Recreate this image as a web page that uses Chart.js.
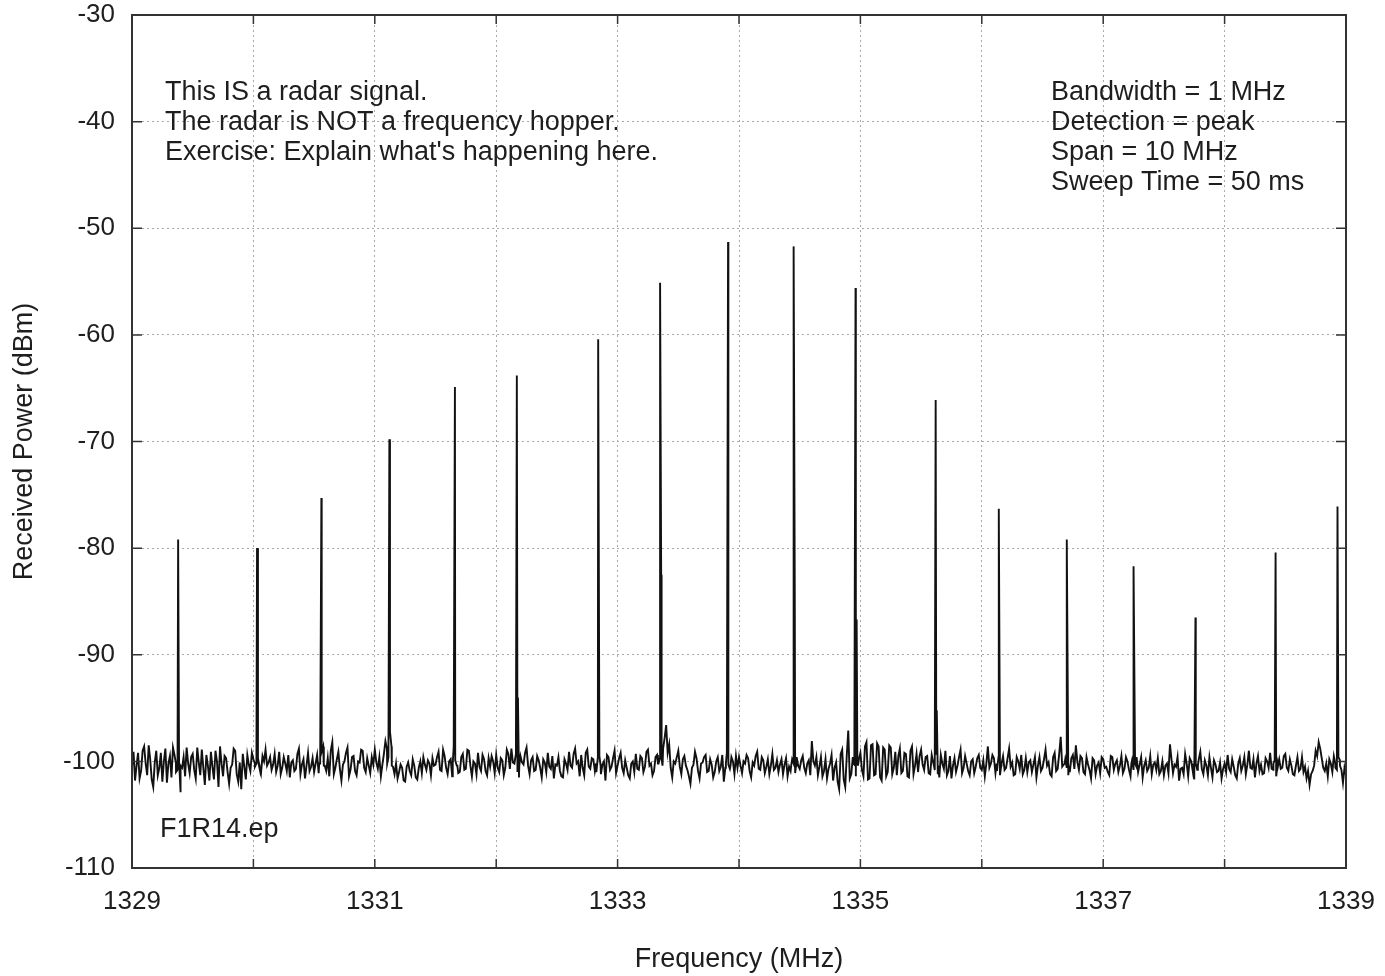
<!DOCTYPE html>
<html>
<head>
<meta charset="utf-8">
<script src="https://cdn.jsdelivr.net/npm/chart.js@4.4.1/dist/chart.umd.min.js"></script>
<style>
  html, body { margin: 0; padding: 0; background: #fff; }
  #radarSpectrum { display: block; }
</style>
</head>
<body>
<canvas id="radarSpectrum" width="1385" height="976"></canvas>
<script>
// Spectrum analyzer trace, 1329-1339 MHz
const freqStart = 1329;
const freqStep = 0.025;

// noise floor, one value per 0.025 MHz
const noiseLevels = [
  -100.5,-101.8,-99.2,-100.9,-98.6,-101.3,-99.8,-102.4,-99.0,-100.6,-101.9,-98.8,-100.2,-101.5,-99.4,-100.8,-102.9,-99.6,-98.7,-101.1,
  -99.3,-101.6,-100.1,-98.9,-102.2,-100.4,-99.1,-101.7,-100.0,-98.6,-101.4,-99.7,-102.1,-100.3,-99.0,-101.9,-102.6,-100.5,-99.4,-100.9,
  -99.8,-100.2,-100.6,-99.5,-98.9,-100.1,-100.8,-99.3,-100.4,-101.2,-99.6,-100.9,-101.5,-99.9,-100.7,-98.8,-100.3,-101.6,-99.2,-100.5,
  -101.0,-99.4,-100.2,-98.6,-100.9,-101.4,-98.2,-100.6,-99.1,-101.8,-100.0,-98.7,-100.8,-99.5,-101.3,-100.1,-99.0,-101.0,-100.4,-99.6,
  -98.9,-100.7,-101.4,-99.3,-98.8,-97.2,-100.5,-100.2,-101.0,-100.6,-101.9,-100.1,-101.3,-100.4,-101.7,-100.0,-99.6,-100.8,-100.2,-99.7,
  -100.3,-99.1,-100.9,-99.5,-101.2,-99.8,-98.6,-100.4,-101.0,-99.3,-100.7,-99.0,-101.4,-100.2,-99.2,-100.9,-99.8,-101.3,-100.5,-100.0,
  -99.4,-101.0,-99.9,-100.6,-99.3,-98.8,-100.2,-100.9,-99.5,-100.3,-98.7,-101.2,-99.6,-100.8,-99.9,-101.5,-100.1,-99.2,-100.7,-101.6,
  -100.4,-100.9,-101.5,-100.2,-99.1,-100.6,-98.8,-100.0,-99.4,-101.3,-98.9,-100.7,-99.8,-101.0,-99.5,-100.3,-101.8,-99.6,-100.5,-99.0,
  -100.4,-99.2,-101.1,-100.6,-101.6,-100.0,-99.3,-100.8,-99.7,-100.5,-98.9,-100.2,-100.9,-99.4,-99.6,-98.8,-96.6,-98.4,-101.5,-100.2,
  -99.0,-101.2,-99.5,-100.8,-102.1,-100.3,-99.7,-101.6,-100.1,-99.4,-100.9,-100.3,-101.0,-99.6,-100.5,-101.9,-99.2,-100.7,-100.0,-99.5,
  -99.6,-101.1,-100.2,-99.7,-101.5,-100.4,-99.1,-100.8,-99.9,-100.5,-101.2,-99.3,-100.6,-101.0,-99.8,-100.3,-101.4,-100.9,-100.2,-99.6,
  -100.7,-99.5,-101.1,-99.9,-98.1,-100.4,-101.3,-99.6,-100.9,-101.6,-100.2,-101.8,-100.1,-102.6,-98.9,-102.4,-97.1,-101.2,-100.3,-100.0,
  -99.2,-101.4,-98.2,-101.6,-98.4,-101.2,-98.6,-101.8,-98.9,-101.0,-98.7,-100.6,-101.3,-98.8,-100.9,-99.3,-101.5,-98.6,-100.4,-101.0,
  -98.9,-100.8,-99.5,-101.2,-100.1,-99.3,-101.5,-100.2,-99.0,-100.9,-101.6,-99.7,-100.4,-98.9,-100.6,-100.2,-101.3,-99.8,-100.5,-99.4,
  -100.8,-101.4,-98.6,-100.2,-99.7,-100.9,-101.3,-99.5,-100.6,-98.8,-100.1,-101.2,-100.0,-99.4,-100.8,-101.0,-99.9,-100.3,-101.5,-99.6,
  -100.6,-98.9,-100.1,-101.4,-99.2,-100.7,-97.7,-100.3,-100.6,-101.0,-99.4,-98.5,-100.8,-99.7,-101.2,-100.3,-101.6,-99.9,-100.4,-101.1,
  -99.8,-100.5,-101.3,-99.6,-100.2,-101.0,-99.5,-100.7,-100.0,-101.4,-100.8,-99.6,-100.3,-101.5,-99.9,-100.6,-101.2,-100.1,-99.7,-100.9,
  -101.3,-100.2,-98.4,-101.1,-100.5,-101.8,-100.6,-99.3,-101.4,-100.0,-101.7,-100.8,-99.1,-101.2,-100.4,-99.6,-101.5,-100.3,-100.9,-101.6,
  -100.2,-99.4,-101.0,-100.5,-101.6,-99.7,-100.4,-101.2,-99.0,-100.7,-101.5,-99.5,-100.3,-101.1,-100.0,-99.2,-100.8,-101.4,-99.8,-100.6,
  -99.3,-100.9,-100.4,-101.3,-99.6,-100.7,-101.0,-101.6,-102.2,-100.9,-99.0,-98.2,-99.7,-100.9,-101.4,-100.2,-99.5,-100.8,-99.9,-102.0,
  -101.3
];

// in-between samples of the same trace (half a step later)
const noiseLevelsMid = [
  -99.1,-100.4,-101.6,-99.0,-100.2,-98.5,-101.7,-100.1,-101.3,-99.2,-100.0,-102.0,-99.5,-98.7,-101.0,-99.9,-100.6,-101.4,-100.2,-99.6,
  -100.8,-98.7,-101.3,-100.6,-99.4,-101.8,-100.5,-99.0,-102.4,-100.2,-99.5,-101.0,-100.6,-98.8,-101.2,-100.1,-99.3,-101.7,-100.3,-99.2,
  -100.5,-99.9,-101.1,-100.0,-100.4,-99.6,-100.3,-101.0,-99.1,-100.6,-100.2,-99.4,-100.1,-100.9,-99.3,-101.2,-99.8,-100.4,-100.9,-99.7,
  -100.2,-101.1,-99.1,-100.4,-99.7,-99.0,-101.2,-99.8,-100.7,-100.3,-99.2,-101.4,-99.6,-100.9,-100.0,-98.9,-100.6,-99.7,-101.1,-100.3,
  -100.1,-99.6,-100.3,-98.1,-99.6,-98.6,-101.2,-101.6,-100.3,-101.8,-100.5,-100.9,-99.8,-101.5,-100.6,-101.1,-100.3,-99.9,-101.3,-100.4,
  -99.6,-100.8,-98.9,-100.6,-100.0,-101.4,-99.9,-101.1,-99.6,-100.8,-98.9,-100.4,-100.0,-101.2,-100.5,-99.4,-100.9,-99.7,-99.5,-101.1,
  -100.6,-99.7,-101.3,-98.9,-100.7,-100.1,-99.3,-101.5,-100.1,-99.2,-100.4,-99.9,-100.9,-99.5,-100.6,-99.8,-101.0,-100.5,-99.5,-100.3,
  -99.6,-101.4,-99.8,-100.8,-100.4,-99.3,-100.2,-101.4,-100.6,-99.2,-100.5,-99.7,-100.9,-99.6,-101.2,-100.0,-99.4,-100.8,-99.7,-101.1,
  -99.7,-100.6,-99.9,-101.3,-100.2,-101.0,-100.7,-99.5,-101.0,-99.1,-100.4,-101.3,-99.6,-100.2,-99.8,-97.8,-99.2,-100.6,-100.0,-99.6,
  -100.5,-99.8,-100.4,-101.4,-100.6,-99.1,-100.9,-100.2,-99.6,-101.0,-99.8,-101.5,-100.0,-100.9,-99.4,-100.6,-100.3,-99.6,-101.2,-100.6,
  -100.4,-100.0,-99.4,-100.9,-100.1,-99.5,-100.7,-99.6,-101.1,-99.8,-100.4,-100.8,-99.9,-100.3,-101.2,-99.7,-100.5,-99.8,-101.1,-100.4,
  -99.9,-100.6,-100.2,-101.3,-100.0,-99.6,-100.5,-101.4,-99.8,-100.7,-99.4,-100.6,-101.9,-99.3,-101.7,-99.5,-101.6,-99.6,-101.4,-99.8,
  -100.8,-98.6,-101.7,-98.5,-101.3,-98.3,-101.5,-98.7,-101.4,-98.5,-101.2,-99.1,-99.5,-101.1,-99.2,-101.4,-99.0,-101.2,-99.3,-99.5,
  -100.3,-99.6,-101.1,-99.4,-100.8,-101.2,-99.4,-100.7,-101.3,-99.5,-100.4,-101.0,-99.6,-101.1,-99.5,-100.9,-100.0,-101.1,-99.7,-100.6,
  -99.9,-100.2,-100.6,-99.4,-101.1,-99.6,-100.2,-100.8,-99.7,-100.5,-101.3,-99.6,-100.7,-101.2,-99.7,-100.1,-101.0,-99.6,-100.4,-100.9,
  -99.8,-100.4,-101.2,-99.6,-100.9,-99.3,-100.5,-99.8,-101.3,-99.7,-100.7,-100.1,-99.5,-101.0,-99.6,-100.8,-99.7,-101.2,-100.1,-99.6,
  -100.6,-101.0,-99.5,-100.8,-99.9,-100.4,-101.1,-99.6,-100.8,-99.9,-100.2,-101.0,-99.6,-100.4,-100.9,-99.5,-100.3,-100.8,-101.2,-100.0,
  -100.4,-101.1,-99.8,-100.3,-99.6,-100.7,-101.2,-100.2,-99.7,-100.9,-100.2,-99.8,-100.7,-99.9,-101.3,-100.6,-99.9,-101.0,-100.1,-100.7,
  -101.0,-100.7,-99.8,-101.3,-100.2,-100.9,-99.6,-100.3,-100.6,-99.8,-100.2,-100.9,-101.2,-99.7,-100.6,-100.7,-99.9,-100.2,-100.7,-99.5,
  -100.6,-99.8,-101.2,-100.4,-100.9,-99.6,-100.5,-100.9,-101.2,-100.4,-99.5,-98.8,-100.6,-100.2,-99.8,-101.0,-100.6,-99.6,-100.8,-100.6
];

// radar pulses seen by the sweep
const peakFreqs  = [1329.38, 1330.03, 1330.56, 1331.12, 1331.66, 1332.17, 1332.84, 1333.35, 1333.91,
                    1334.45, 1334.96, 1335.62, 1336.14, 1336.70, 1337.25, 1337.76, 1338.42, 1338.93];
const peakLevels = [-79.2, -80.0, -75.3, -69.8, -64.9, -63.8, -60.4, -55.1, -51.3,
                    -51.7, -55.6, -66.1, -76.3, -79.2, -81.7, -86.5, -80.4, -76.1];
// second hit just after some pulses (null = none)
const shoulderLevels = [null, null, null, null, null, -94.0, null, -82.5, null,
                        -83.0, -86.7, -95.2, null, null, null, null, null, null];

const yTicks = [-110, -100, -90, -80, -70, -60, -50, -40, -30];
const xTicks = [1329, 1330, 1331, 1332, 1333, 1334, 1335, 1336, 1337, 1338, 1339];

const leftNotes = ["This IS a radar signal.", "The radar is NOT a frequency hopper.", "Exercise: Explain what's happening here."];
const rightNotes = ["Bandwidth = 1 MHz", "Detection = peak", "Span = 10 MHz", "Sweep Time = 50 ms"];
const fileTag = "F1R14.ep";

// build the trace
const trace = noiseLevels.map((y, i) => ({ x: freqStart + i * freqStep, y: y }))
  .concat(noiseLevelsMid.map((y, i) => ({ x: freqStart + (i + 0.5) * freqStep, y: y })));
peakFreqs.forEach((f, i) => {
  trace.push({ x: f - 0.018, y: -100.2 });
  trace.push({ x: f, y: peakLevels[i] });
  if (shoulderLevels[i] !== null) trace.push({ x: f + 0.009, y: shoulderLevels[i] });
  trace.push({ x: f + 0.02, y: -100.4 });
});
trace.sort((a, b) => a.x - b.x);

const FONT = "'Liberation Sans', Arial, Helvetica, sans-serif";
const INK = '#1e1e1e';

// frame, inward ticks and text notes
const framePlugin = {
  id: 'frame',
  afterDraw(chart) {
    const ctx = chart.ctx;
    const a = chart.chartArea;
    const xs = chart.scales.x, ys = chart.scales.y;
    ctx.save();
    ctx.strokeStyle = '#333';
    ctx.lineWidth = 2;
    ctx.strokeRect(a.left, a.top, a.right - a.left, a.bottom - a.top);
    ctx.lineWidth = 1.5;
    ctx.beginPath();
    xTicks.forEach(v => {
      const px = xs.getPixelForValue(v);
      ctx.moveTo(px, a.bottom); ctx.lineTo(px, a.bottom - 9);
      ctx.moveTo(px, a.top); ctx.lineTo(px, a.top + 9);
    });
    yTicks.forEach(v => {
      const py = ys.getPixelForValue(v);
      ctx.moveTo(a.left, py); ctx.lineTo(a.left + 10, py);
      ctx.moveTo(a.right, py); ctx.lineTo(a.right - 10, py);
    });
    ctx.stroke();

    ctx.fillStyle = INK;
    ctx.font = '27px ' + FONT;
    ctx.textAlign = 'left';
    ctx.textBaseline = 'alphabetic';
    leftNotes.forEach((t, i) => ctx.fillText(t, a.left + 33, a.top + 85 + i * 30));
    rightNotes.forEach((t, i) => ctx.fillText(t, a.left + 919, a.top + 85 + i * 30));
    ctx.fillText(fileTag, a.left + 28, a.bottom - 31);
    ctx.restore();
  }
};

new Chart(document.getElementById('radarSpectrum'), {
  type: 'line',
  data: {
    datasets: [{
      label: 'Received Power',
      data: trace,
      borderColor: '#111',
      borderWidth: 1.9,
      pointRadius: 0,
      tension: 0,
      fill: false
    }]
  },
  options: {
    responsive: false,
    animation: false,
    events: [],
    layout: { padding: { top: 15, right: 39, left: 0, bottom: 0 } },
    plugins: {
      legend: { display: false },
      tooltip: { enabled: false }
    },
    scales: {
      x: {
        type: 'linear',
        min: 1329,
        max: 1339,
        afterFit: s => { s.height = 108; s.paddingLeft = 0; s.paddingRight = 0; },
        afterBuildTicks: s => { s.ticks = xTicks.map(v => ({ value: v })); },
        ticks: {
          padding: 18,
          color: INK,
          font: { family: FONT, size: 26 },
          maxRotation: 0,
          autoSkip: false,
          callback: v => ((v - 1329) % 2 === 0 ? String(v) : '')
        },
        grid: { color: '#aaa', lineWidth: 1, drawTicks: false },
        border: { display: false, dash: [2, 3] },
        title: {
          display: true,
          text: 'Frequency (MHz)',
          color: INK,
          font: { family: FONT, size: 27 },
          padding: { top: 0, bottom: 0 }
        }
      },
      y: {
        min: -110,
        max: -30,
        afterFit: s => { s.width = 132; s.paddingTop = 0; s.paddingBottom = 0; },
        afterBuildTicks: s => { s.ticks = yTicks.map(v => ({ value: v })); },
        ticks: {
          padding: 17,
          color: INK,
          font: { family: FONT, size: 26 }
        },
        grid: { color: '#aaa', lineWidth: 1, drawTicks: false },
        border: { display: false, dash: [2, 3] },
        title: {
          display: true,
          text: 'Received Power (dBm)',
          color: INK,
          font: { family: FONT, size: 27 },
          padding: { top: 8, bottom: 0 }
        }
      }
    }
  },
  plugins: [framePlugin]
});
</script>
</body>
</html>
